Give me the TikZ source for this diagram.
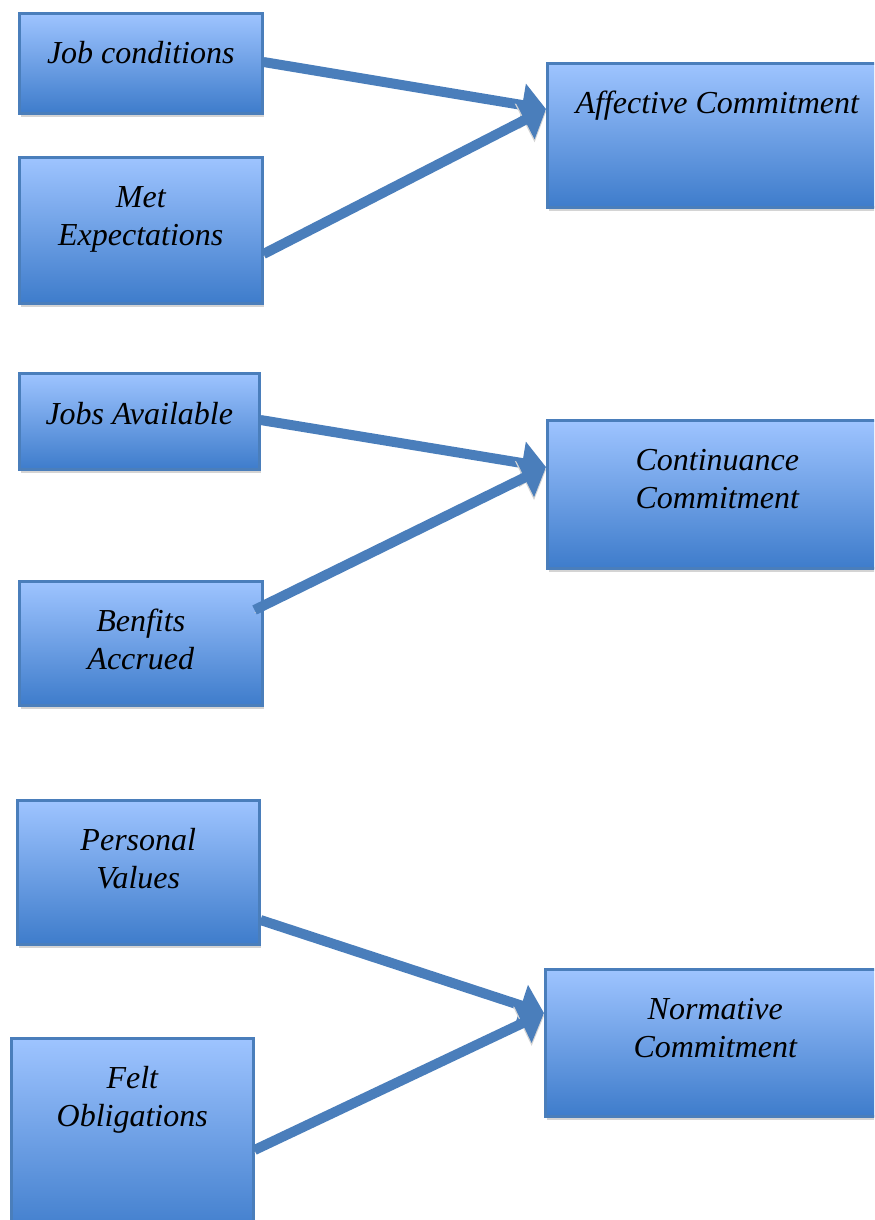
\documentclass[tikz,border=0pt]{standalone}
\usepackage{fontspec}
\setmainfont{Liberation Serif}
\usetikzlibrary{arrows.meta,calc,shadows}
\definecolor{boxline}{RGB}{74,126,187}
\definecolor{boxtop}{RGB}{158,196,255}
\definecolor{boxbot}{RGB}{62,124,203}
\definecolor{arrowblue}{RGB}{74,126,187}
\definecolor{shadowgray}{RGB}{212,212,212}
\begin{document}
\begin{tikzpicture}[x=0.75pt,y=-0.75pt,
  box/.style={draw=boxline, line width=1.9pt, top color=boxtop, bottom color=boxbot,
    anchor=north west, inner sep=0pt,
    drop shadow={shadow xshift=1.1pt, shadow yshift=-2.6pt, fill=shadowgray, opacity=1}},
  lbl/.style={anchor=base, font=\fontsize{24}{28.5}\selectfont\itshape, align=center, inner sep=0pt},
  conn/.style={draw=arrowblue, line width=7.5pt, -{Triangle[length=18pt,width=31.5pt]},
    preaction={draw=shadowgray, transform canvas={yshift=-2.2pt}}}]
\useasboundingbox (0,0) rectangle (874,1220);
\clip (0,0) rectangle (874,1220);
% boxes
\node[box, minimum width=182.25pt, minimum height=75pt] (job) at (18,12) {};
\node[box, minimum width=182.25pt, minimum height=109.5pt] (met) at (18,156) {};
\node[box, minimum width=255pt, minimum height=108pt] (aff) at (546,62) {};
\node[box, minimum width=180pt, minimum height=72pt] (avail) at (18,372) {};
\node[box, minimum width=255pt, minimum height=111pt] (cont) at (546,419) {};
\node[box, minimum width=182.25pt, minimum height=93pt] (ben) at (18,580) {};
\node[box, minimum width=181.5pt, minimum height=108pt] (pers) at (16,799) {};
\node[box, minimum width=255pt, minimum height=110.25pt] (norm) at (544,968) {};
\node[box, minimum width=181.5pt, minimum height=150pt] (felt) at (10,1037) {};
% labels (base = baseline of the last line)
\node[lbl] (jobt) at ($(job.north)+(0,52)$) {Job conditions};
\node[lbl] (mett) at ($(met.north)+(0,89)$) {Met\\Expectations};
\node[lbl] (afft) at ($(aff.north)+(0,52)$) {Affective Commitment};
\node[lbl] (availt) at ($(avail.north)+(0,52)$) {Jobs Available};
\node[lbl] (contt) at ($(cont.north)+(0,89)$) {Continuance\\Commitment};
\node[lbl] (bent) at ($(ben.north)+(0,89)$) {Benfits\\Accrued};
\node[lbl] (perst) at ($(pers.north)+(0,89)$) {Personal\\Values};
\node[lbl] (normt) at ($(norm.north)+(0,89)$) {Normative\\Commitment};
\node[lbl] (feltt) at ($(felt.north)+(0,89)$) {Felt\\Obligations};
% connectors
\draw[conn] ($(job.north east)+(0,50)$) -- ($(aff.north west)+(0,47)$);
\draw[conn] ($(met.north east)+(0,98)$) -- ($(aff.north west)+(0,47)$);
\draw[conn] ($(avail.north east)+(0,48)$) -- ($(cont.north west)+(0,48)$);
\draw[conn] ($(ben.north east)+(-9,30)$) -- ($(cont.north west)+(0,48)$);
\draw[conn] ($(pers.north east)+(0,121)$) -- ($(norm.north west)+(0,45)$);
\draw[conn] ($(felt.north east)+(0,113)$) -- ($(norm.north west)+(0,45)$);
\end{tikzpicture}
\end{document}
